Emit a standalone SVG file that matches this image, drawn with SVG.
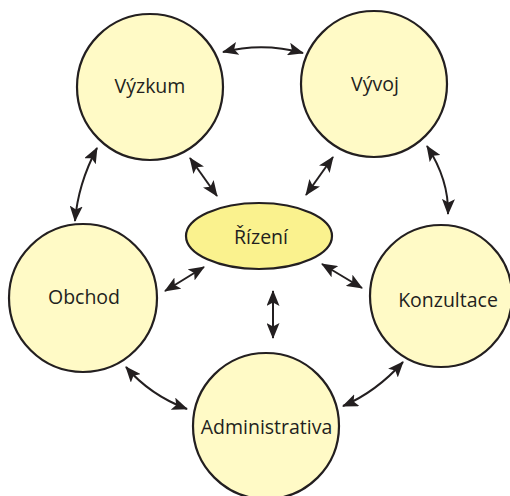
<svg xmlns="http://www.w3.org/2000/svg" width="510" height="496" viewBox="0 0 510 496">
<defs>
<style>
.node{fill:#FFFAC6;stroke:#231F20;stroke-width:2.2}
.hub{fill:#FAF28E;stroke:#231F20;stroke-width:2.2}
.lbl{font-family:"Open Sans","Noto Sans",sans-serif;font-size:19.5px;fill:#231F20;text-anchor:middle}
.con{fill:none;stroke:#231F20;stroke-width:2;marker-start:url(#ah);marker-end:url(#ah)}
</style>
<marker id="ah" markerUnits="userSpaceOnUse" markerWidth="16" markerHeight="13" refX="15" refY="6.5" orient="auto-start-reverse" viewBox="0 0 16 13">
<path d="M0,0 L16,6.5 L0,13 L3.5,6.5 z" fill="#231F20"/>
</marker>
</defs>
<rect width="510" height="496" fill="#FFFFFF"/>
<g id="connectors">
<path class="con" d="M223,52 Q263,42 303,53"/>
<path class="con" d="M190,158 L217,196"/>
<path class="con" d="M333,157 L306,195"/>
<path class="con" d="M165,291 L204,267"/>
<path class="con" d="M322,264 L362,288"/>
<path class="con" d="M273,291 L273,338"/>
<path class="con" d="M97,148 Q78,184 75,221"/>
<path class="con" d="M427,146 Q449,180 448,214"/>
<path class="con" d="M126,367 Q150,395 187,409"/>
<path class="con" d="M403,362 Q376,392 343,406"/>
</g>
<g id="vyzkum">
<circle class="node" cx="150" cy="87" r="73"/>
<text class="lbl" x="150" y="93">Výzkum</text>
</g>
<g id="vyvoj">
<circle class="node" cx="374" cy="84" r="73"/>
<text class="lbl" x="375" y="91">Vývoj</text>
</g>
<g id="rizeni">
<ellipse class="hub" cx="259" cy="236" rx="73" ry="33"/>
<text class="lbl" x="261" y="244">Řízení</text>
</g>
<g id="obchod">
<circle class="node" cx="83" cy="298" r="74"/>
<text class="lbl" x="84" y="304">Obchod</text>
</g>
<g id="konzultace">
<circle class="node" cx="441" cy="296" r="71"/>
<text class="lbl" x="448" y="307">Konzultace</text>
</g>
<g id="administrativa">
<circle class="node" cx="266" cy="426" r="73"/>
<text class="lbl" x="266.5" y="434">Administrativa</text>
</g>
</svg>
